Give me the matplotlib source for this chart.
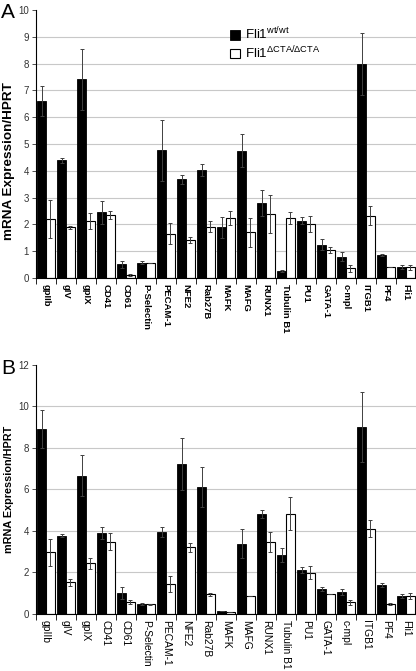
import numpy as np
import matplotlib
matplotlib.use("Agg")
import matplotlib.pyplot as plt

plt.rcParams['font.family'] = ['Liberation Sans', 'DejaVu Sans']
plt.rcParams['mathtext.fontset'] = 'custom'
plt.rcParams['mathtext.rm'] = 'Liberation Sans'

genes = ["gpIIb", "gIV", "gpIX", "CD41", "CD61", "P-Selectin", "PECAM-1", "NFE2",
         "Rab27B", "MAFK", "MAFG", "RUNX1", "Tubulin B1", "PU1", "GATA-1", "c-mpl",
         "ITGB1", "PF4", "Fli1"]

# panel A
a_wt = [6.62, 4.40, 7.41, 2.45, 0.51, 0.57, 4.76, 3.69, 4.03, 1.89, 4.75, 2.79, 0.25,
        2.13, 1.24, 0.80, 7.98, 0.85, 0.40]
a_wt_err = [0.56, 0.09, 1.15, 0.44, 0.14, 0.05, 1.14, 0.17, 0.22, 0.40, 0.61, 0.49, 0.03,
            0.13, 0.20, 0.17, 1.15, 0.03, 0.07]
a_ko = [2.20, 1.89, 2.11, 2.35, 0.11, 0.57, 1.65, 1.42, 1.92, 2.23, 1.70, 2.39, 2.23,
        2.01, 1.04, 0.36, 2.33, 0.42, 0.40]
a_ko_err = [0.71, 0.05, 0.30, 0.16, 0.04, 0.0, 0.39, 0.12, 0.21, 0.26, 0.55, 0.71, 0.22,
            0.30, 0.10, 0.13, 0.37, 0.0, 0.10]

# panel B
b_wt = [8.92, 3.78, 6.67, 3.89, 1.00, 0.48, 3.95, 7.23, 6.12, 0.14, 3.39, 4.82, 2.83,
        2.12, 1.22, 1.06, 9.01, 1.40, 0.85]
b_wt_err = [0.91, 0.08, 0.99, 0.29, 0.29, 0.07, 0.26, 1.25, 0.98, 0.0, 0.69, 0.21, 0.33,
            0.15, 0.10, 0.13, 1.69, 0.08, 0.10]
b_ko = [2.97, 1.53, 2.44, 3.49, 0.56, 0.47, 1.45, 3.21, 0.95, 0.11, 0.85, 3.47, 4.84,
        1.99, 0.95, 0.56, 4.11, 0.48, 0.88]
b_ko_err = [0.66, 0.16, 0.27, 0.41, 0.10, 0.03, 0.38, 0.23, 0.08, 0.0, 0.0, 0.50, 0.80,
            0.32, 0.0, 0.11, 0.40, 0.03, 0.15]

fig = plt.figure(figsize=(4.16, 6.71), dpi=100)
axA = fig.add_axes([0.0865, 0.5857, 0.9135, 0.3993])
axB = fig.add_axes([0.0865, 0.0850, 0.9135, 0.3711])

x = np.arange(len(genes))
w = 0.44


def draw(ax, wt, wt_err, ko, ko_err, ymax, step, xsize, xweight, ysize, ylab_x, ylab_y):
    ax.set_axisbelow(True)
    ax.yaxis.grid(True, color="#c8c8c8", linewidth=0.8)
    ekw = dict(ecolor="#404040", elinewidth=0.7, capsize=1.5, capthick=0.7)
    ax.bar(x - w / 2, wt, w, color="black", edgecolor="black", linewidth=0.6,
           yerr=wt_err, error_kw=ekw, label="Fli1$^{\\mathrm{wt/wt}}$")
    ax.bar(x + w / 2, ko, w, color="white", edgecolor="black", linewidth=0.8,
           yerr=ko_err, error_kw=ekw, label="Fli1$^{\\Delta\\mathrm{CTA/}\\Delta\\mathrm{CTA}}$")
    ax.set_xlim(-0.5, len(genes) - 0.5)
    ax.set_ylim(0, ymax)
    ax.set_yticks(np.arange(0, ymax + 0.1, step))
    ax.get_ygridlines()[-1].set_visible(False)
    ax.tick_params(axis="y", labelsize=7, length=3, width=0.6, colors="#333333", pad=2)
    ax.set_xticks(x)
    ax.set_xticklabels(genes, rotation=270, fontsize=xsize, fontweight=xweight)
    ax.tick_params(axis="x", length=0, pad=4)
    ax.set_xticks(np.arange(-0.5, len(genes), 1), minor=True)
    ax.tick_params(axis="x", which="minor", length=4, width=0.6)
    for s in ["top", "right"]:
        ax.spines[s].set_visible(False)
    ax.spines["left"].set_linewidth(0.8)
    ax.spines["bottom"].set_linewidth(0.8)
    ax.set_ylabel("mRNA Expression/HPRT", fontsize=ysize, fontweight="bold")
    ax.yaxis.set_label_coords(ylab_x, ylab_y)


draw(axA, a_wt, a_wt_err, a_ko, a_ko_err, 10, 1, 6.8, "bold", 9.7, -0.055, 0.437)
draw(axB, b_wt, b_wt_err, b_ko, b_ko_err, 12, 2, 7.4, "normal", 7.8, -0.058, 0.5)

axA.legend(loc="upper left", bbox_to_anchor=(0.48, 0.985), frameon=False, fontsize=9.5,
           handlelength=0.7, handleheight=0.7, handletextpad=0.4, labelspacing=0.15)

fig.text(0.002, 0.995, "A", fontsize=15, va="top", ha="left")
fig.text(0.002, 0.465, "B", fontsize=15, va="top", ha="left")

fig.savefig("out.png", dpi=100)
